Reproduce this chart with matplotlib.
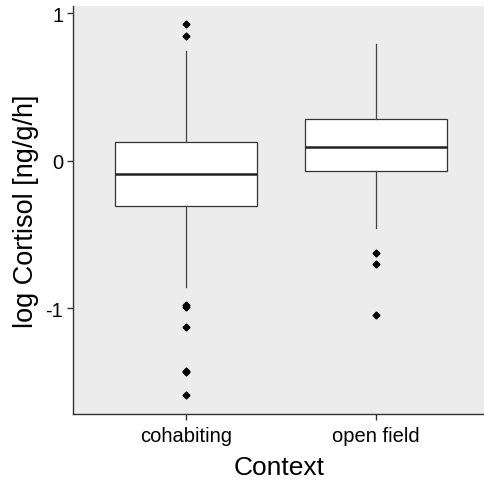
import matplotlib
matplotlib.use("Agg")
import matplotlib.pyplot as plt

categories = ["cohabiting", "open field"]
q1 = [-0.307, -0.068]
med = [-0.090, 0.093]
q3 = [0.127, 0.285]
whislo = [-0.857, -0.452]
whishi = [0.748, 0.791]
outliers = [
    [0.929, 0.845, -0.975, -0.99, -1.123, -1.422, -1.43, -1.584],
    [-0.624, -0.698, -1.046],
]
yticks = [-1, 0, 1]

plt.rcParams['font.family'] = ['Liberation Sans', 'DejaVu Sans']
fig = plt.figure(figsize=(4.85, 4.81), dpi=100)
ax = fig.add_axes([73/485, 1 - 415/481, 412/485, 408/481])
ax.set_facecolor('#ececec')

stats = []
for i, c in enumerate(categories):
    stats.append(dict(label=c, q1=q1[i], med=med[i], q3=q3[i],
                      whislo=whislo[i], whishi=whishi[i], fliers=outliers[i]))
ax.bxp(stats, positions=[1, 2], widths=0.75, patch_artist=True, showcaps=False,
       boxprops=dict(facecolor='white', edgecolor='#333333', linewidth=0.9),
       medianprops=dict(color='#222222', linewidth=1.8),
       whiskerprops=dict(color='#444444', linewidth=0.9),
       flierprops=dict(marker='D', markersize=3.5, markerfacecolor='black',
                       markeredgecolor='black'))

ax.set_xlim(0.405, 2.574)
ax.set_ylim(-1.715, 1.05)
ax.set_yticks(yticks)
ax.set_yticklabels([str(t) for t in yticks])
ax.set_xticks([1, 2])
ax.set_xticklabels(categories)
for s in ['top', 'right']:
    ax.spines[s].set_visible(False)
for s in ['left', 'bottom']:
    ax.spines[s].set_color('#333333')
    ax.spines[s].set_linewidth(1.0)
ax.tick_params(axis='both', colors='#333333', length=4, width=1, labelsize=14.5,
               labelcolor='black')
ax.tick_params(axis='x', pad=5)
ax.tick_params(axis='y', pad=3)
ax.set_ylabel("log Cortisol [ng/g/h]", fontsize=19.5, labelpad=5)
ax.set_xlabel("Context", fontsize=19, labelpad=7)
fig.savefig("out.png", dpi=100)
